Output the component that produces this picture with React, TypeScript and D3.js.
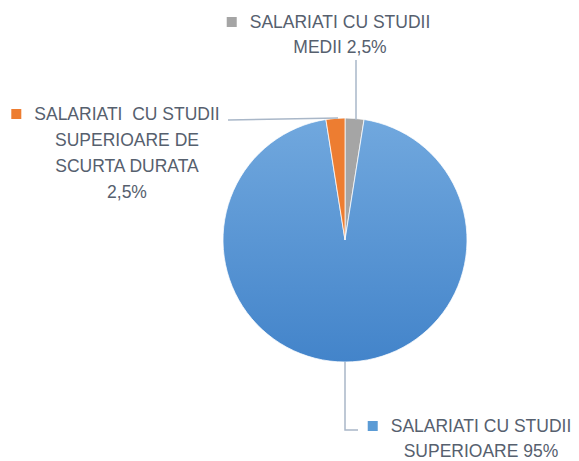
import React, { useEffect, useRef } from "react";
import * as d3 from "d3";

const categories = [
  "SALARIATI CU STUDII MEDII",
  "SALARIATI CU STUDII SUPERIOARE",
  "SALARIATI  CU STUDII SUPERIOARE DE SCURTA DURATA",
];
const values = [2.5, 95, 2.5];
const labelLines = [
  ["SALARIATI CU STUDII", "MEDII 2,5%"],
  ["SALARIATI CU STUDII", "SUPERIOARE 95%"],
  ["SALARIATI  CU STUDII", "SUPERIOARE DE", "SCURTA DURATA", "2,5%"],
];
const colors = ["#a5a5a5", "url(#blueGrad)", "#ed7d31"];
const markerColors = ["#a5a5a5", "#5b9bd5", "#ed7d31"];

const W = 579;
const H = 461;
const cx = 345;
const cy = 240;
const R = 122;

// label layout: center x, first baseline, line spacing
const labelPos = [
  { x: 340, y: 28, dy: 25 },
  { x: 481, y: 432, dy: 25 },
  { x: 127, y: 120, dy: 26 },
];
// leader lines (polylines) in px
const leaders = [
  [[356, 60], [356, 120]],
  [[345, 362], [345, 430], [358, 430]],
  [[228, 120], [338, 118]],
];

export default function App() {
  const ref = useRef<SVGSVGElement>(null);

  useEffect(() => {
    const svg = d3.select(ref.current);
    svg.selectAll("*").remove();
    const defs = svg.append("defs");
    const g = defs
      .append("linearGradient")
      .attr("id", "blueGrad")
      .attr("gradientUnits", "userSpaceOnUse")
      .attr("x1", 0)
      .attr("y1", -R)
      .attr("x2", 0)
      .attr("y2", R);
    g.append("stop").attr("offset", "0%").attr("stop-color", "#71a8de");
    g.append("stop").attr("offset", "100%").attr("stop-color", "#4384ca");

    const pie = d3.pie<number>().sort(null).value((d) => d);
    const arcs = pie(values);
    const arc = d3.arc<d3.PieArcDatum<number>>().innerRadius(0).outerRadius(R);

    svg
      .append("g")
      .attr("transform", `translate(${cx},${cy})`)
      .selectAll("path")
      .data(arcs)
      .join("path")
      .attr("d", arc)
      .attr("fill", (_, i) => colors[i])
      .attr("stroke", "#ffffff")
      .attr("stroke-width", 0.75);

    const line = d3.line();
    svg
      .append("g")
      .selectAll("path")
      .data(leaders)
      .join("path")
      .attr("d", (d) => line(d as [number, number][]))
      .attr("fill", "none")
      .attr("stroke", "#a9b7c8")
      .attr("stroke-width", 1.5);

    const font = "'Liberation Sans', Arial, sans-serif";
    categories.forEach((_, i) => {
      const p = labelPos[i];
      const tg = svg.append("g");
      const texts = tg
        .selectAll("text")
        .data(labelLines[i])
        .join("text")
        .attr("x", p.x)
        .attr("y", (_, j) => p.y + j * p.dy)
        .attr("text-anchor", "middle")
        .attr("font-family", font)
        .attr("font-size", 17.5)
        .attr("fill", "#56606e")
        .style("white-space", "pre")
        .text((d) => d);
      const first = texts.node() as SVGTextElement;
      const w = first.getComputedTextLength();
      tg.append("rect")
        .attr("x", p.x - w / 2 - 23)
        .attr("y", p.y - 11)
        .attr("width", 10)
        .attr("height", 10)
        .attr("fill", markerColors[i]);
    });
  }, []);

  return (
    <svg
      ref={ref}
      width={W}
      height={H}
      style={{ position: "absolute", left: 0, top: 0, background: "#fff" }}
    />
  );
}
